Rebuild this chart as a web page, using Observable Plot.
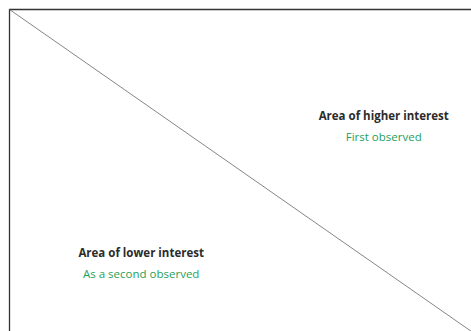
<!DOCTYPE html>
<html>
<head>
<meta charset="utf-8">
<script src="https://cdn.jsdelivr.net/npm/d3@7"></script>
<script src="https://cdn.jsdelivr.net/npm/@observablehq/plot@0.6"></script>
<style>
  html, body { margin: 0; padding: 0; background: #fff; }
</style>
</head>
<body>
<div id="chart"></div>
<script>
// Diagonal dividing line (start and end in data space)
const lineX = [0, 1];
const lineY = [1, 0];

// Area labels
const titles = ["Area of higher interest", "Area of lower interest"];
const subtitles = ["First observed", "As a second observed"];
const labelX = [0.81, 0.285];
const titleY = [0.668, 0.242];
const subY = [0.604, 0.177];

const diag = lineX.map((x, i) => ({x, y: lineY[i]}));
const titleData = titles.map((t, i) => ({t, x: labelX[i], y: titleY[i]}));
const subData = subtitles.map((t, i) => ({t, x: labelX[i], y: subY[i]}));

const chart = Plot.plot({
  width: 471,
  height: 331,
  marginLeft: 9,
  marginTop: 9,
  marginRight: 0,
  marginBottom: 0,
  x: {domain: [0, 1], axis: null},
  y: {domain: [0, 1], axis: null},
  style: {fontFamily: "'Open Sans', sans-serif", background: "#fff"},
  marks: [
    Plot.ruleX([0], {stroke: "#333", strokeWidth: 1.3}),
    Plot.ruleY([1], {stroke: "#333", strokeWidth: 1.3}),
    Plot.line(diag, {x: "x", y: "y", stroke: "#666", strokeWidth: 0.8}),
    Plot.text(titleData, {x: "x", y: "y", text: "t", fontSize: 11.5, fontWeight: "bold", fill: "#2b2b2b", letterSpacing: "-0.3px"}),
    Plot.text(subData, {x: "x", y: "y", text: "t", fontSize: 11.5, fill: "#1fa05a", letterSpacing: "-0.2px"})
  ]
});
document.getElementById("chart").appendChild(chart);
</script>
</body>
</html>
